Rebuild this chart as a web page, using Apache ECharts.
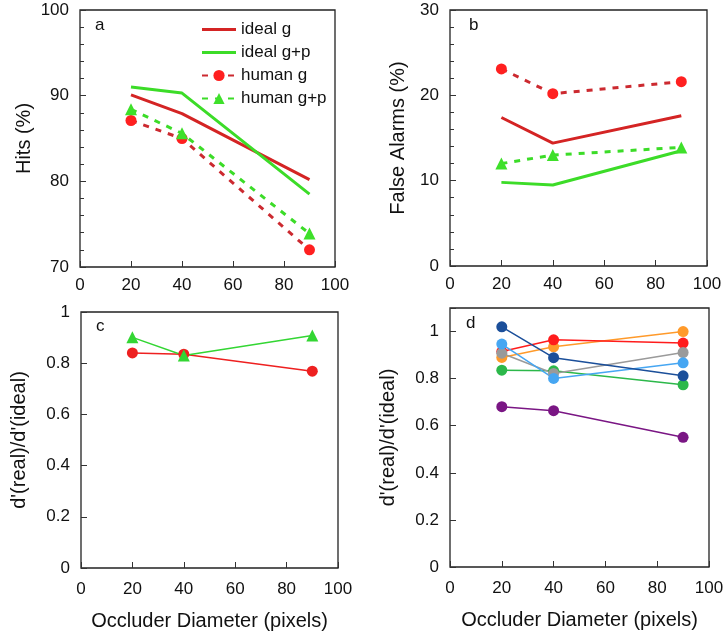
<!DOCTYPE html>
<html><head><meta charset="utf-8">
<script src="https://cdn.jsdelivr.net/npm/echarts@6/dist/echarts.min.js"></script>
<style>html,body{margin:0;padding:0;background:#fff}#c{width:728px;height:633px}</style>
</head><body><div id="c"></div>
<script>
// Data
const diam = [20, 40, 90];
const legendNames = ['ideal g', 'ideal g+p', 'human g', 'human g+p'];
// Panel a: Hits (%)
const hitsIdealG = [90.1, 87.9, 80.2];
const hitsIdealGP = [91.0, 90.3, 78.5];
const hitsHumanG = [87.1, 85.0, 72.0];
const hitsHumanGP = [88.4, 85.6, 73.9];
// Panel b: False Alarms (%)
const faIdealG = [17.4, 14.4, 17.6];
const faIdealGP = [9.8, 9.5, 13.5];
const faHumanG = [23.1, 20.2, 21.6];
const faHumanGP = [12.0, 13.0, 13.9];
// Panel c: efficiency
const effG = [0.840, 0.835, 0.769];
const effGP = [0.901, 0.830, 0.908];
// Panel d: individual observers
const obsDarkBlue = [1.020, 0.889, 0.812];
const obsRed = [0.915, 0.965, 0.951];
const obsOrange = [0.890, 0.935, 1.000];
const obsGray = [0.908, 0.822, 0.911];
const obsLightBlue = [0.947, 0.801, 0.867];
const obsGreen = [0.836, 0.833, 0.774];
const obsPurple = [0.681, 0.664, 0.551];
const xTicks = [0, 20, 40, 60, 80, 100];

const pts = arr => arr.map((v, i) => [diam[i], v]);
const FONT = 'Liberation Sans, Arial, sans-serif';
const RED = '#d42424', RED_M = '#ff2020', RED_D = '#cc2a30';
const GREEN = '#3cdc28', GREEN_M = '#3ee02a';
const LINE_ICON = 'path://M0,0H34V3H0Z';

const grids = [
  {left: 80, top: 10, width: 255, height: 257},
  {left: 450, top: 10, width: 257, height: 256},
  {left: 81, top: 312, width: 257, height: 256},
  {left: 450, top: 308, width: 259, height: 259}
].map(g => Object.assign({show: true, borderColor: '#222', borderWidth: 1.3, backgroundColor: 'transparent'}, g));

function xAx(i, withName) {
  return {
    type: 'value', gridIndex: i, min: 0, max: 100, interval: 20,
    axisLine: {show: false},
    axisTick: {show: true, inside: true, length: 6, lineStyle: {color: '#333', width: 1}},
    axisLabel: {fontSize: 17, color: '#111', fontFamily: FONT, margin: withName ? 13 : 10,
      formatter: v => xTicks.includes(v) ? String(v) : ''},
    splitLine: {show: false},
    name: withName ? 'Occluder Diameter (pixels)' : '',
    nameLocation: 'middle', nameGap: 43,
    nameTextStyle: {fontSize: 20, color: '#111', fontFamily: FONT}
  };
}
function yAx(i, min, max, interval, name, gap, fmt) {
  return {
    type: 'value', gridIndex: i, min: min, max: max, interval: interval,
    axisLine: {show: false},
    axisTick: {show: true, inside: true, length: 6, lineStyle: {color: '#333', width: 1}},
    axisLabel: {fontSize: 17, color: '#111', fontFamily: FONT, margin: 11, formatter: fmt},
    splitLine: {show: false},
    name: name, nameLocation: 'middle', nameGap: gap,
    nameTextStyle: {fontSize: 20, color: '#111', fontFamily: FONT}
  };
}
// secondary tick-only axis for the minor ticks (every 2 units)
function minorAx(i, min, max) {
  return {
    type: 'value', gridIndex: i, min: min, max: max, interval: 2, position: 'left',
    axisLine: {show: false},
    axisTick: {show: true, inside: true, length: 4, lineStyle: {color: '#333', width: 1}},
    axisLabel: {show: false}, splitLine: {show: false}
  };
}
const fmtInt = v => String(Math.round(v));
const fmtFrac = v => {
  const r = Math.round(v * 10) / 10;
  if (Math.abs(v * 5 - Math.round(v * 5)) > 1e-6) return '';
  return r === 0 ? '0' : r === 1 ? '1' : r.toFixed(1);
};

function solid(name, data, color, gi) {
  return {type: 'line', name: name, xAxisIndex: gi, yAxisIndex: gi, data: pts(data),
    symbol: 'none', lineStyle: {color: color, width: 3}, itemStyle: {color: color}, z: 3, animation: false};
}
function dashed(name, data, lineColor, markColor, sym, gi) {
  return {type: 'line', name: name, xAxisIndex: gi, yAxisIndex: gi, data: pts(data),
    symbol: sym, symbolSize: sym === 'triangle' ? 12 : 11, showAllSymbol: true,
    lineStyle: {color: lineColor, width: 3, type: [6, 7]}, itemStyle: {color: markColor}, z: 4, animation: false};
}
function thin(name, data, color, sym, gi, size) {
  return {type: 'line', name: name, xAxisIndex: gi, yAxisIndex: gi, data: pts(data),
    symbol: sym, symbolSize: size, lineStyle: {color: color, width: 1.5}, itemStyle: {color: color},
    z: 3, animation: false};
}

const series = [
  solid('ideal g', hitsIdealG, RED, 0),
  solid('ideal g+p', hitsIdealGP, GREEN, 0),
  dashed('human g', hitsHumanG, RED_D, RED_M, 'circle', 0),
  dashed('human g+p', hitsHumanGP, GREEN, GREEN_M, 'triangle', 0),
  solid('ideal g', faIdealG, RED, 1),
  solid('ideal g+p', faIdealGP, GREEN, 1),
  dashed('human g', faHumanG, RED_D, RED_M, 'circle', 1),
  dashed('human g+p', faHumanGP, GREEN, GREEN_M, 'triangle', 1),
  thin('eff g', effG, '#ee2020', 'circle', 2, 11),
  thin('eff g+p', effGP, '#33d633', 'triangle', 2, 12),
  thin('o7', obsPurple, '#7a1684', 'circle', 3, 11),
  thin('o6', obsGreen, '#2cb84a', 'circle', 3, 11),
  thin('o3', obsOrange, '#ff9a2a', 'circle', 3, 11),
  thin('o2', obsRed, '#ff1c1c', 'circle', 3, 11),
  thin('o4', obsGray, '#9a9a9a', 'circle', 3, 11),
  thin('o5', obsLightBlue, '#46a6f2', 'circle', 3, 11),
  thin('o1', obsDarkBlue, '#1b4f9a', 'circle', 3, 11)
];

const labelStyle = (t, x, y) => ({type: 'text', left: x, top: y,
  style: {text: t, fontSize: 17, fill: '#111', fontFamily: FONT}});

const chart = echarts.init(document.getElementById('c'), null, {renderer: 'canvas'});
chart.setOption({
  animation: false,
  backgroundColor: '#fff',
  grid: grids,
  xAxis: [xAx(0, false), xAx(1, false), xAx(2, true), xAx(3, true)],
  yAxis: [
    yAx(0, 70, 100, 10, 'Hits (%)', 46, fmtInt),
    yAx(1, 0, 30, 10, 'False Alarms (%)', 42, fmtInt),
    yAx(2, 0, 1, 0.2, "d'(real)/d'(ideal)", 52, fmtFrac),
    yAx(3, 0, 1.1, 0.2, "d'(real)/d'(ideal)", 52, fmtFrac),
    minorAx(0, 70, 100),
    minorAx(1, 0, 30)
  ],
  legend: {
    data: [
      {name: legendNames[0], icon: LINE_ICON},
      {name: legendNames[1], icon: LINE_ICON},
      {name: legendNames[2]},
      {name: legendNames[3]}
    ],
    orient: 'vertical', left: 196, top: 16,
    itemWidth: 34, itemHeight: 14, itemGap: 6, symbolKeepAspect: true,
    textStyle: {fontSize: 17, color: '#111', fontFamily: FONT},
    selectedMode: false
  },
  graphic: [
    labelStyle('a', 95, 17),
    labelStyle('b', 469, 17),
    labelStyle('c', 96, 318),
    labelStyle('d', 466, 315)
  ],
  series: series
});
</script></body></html>
